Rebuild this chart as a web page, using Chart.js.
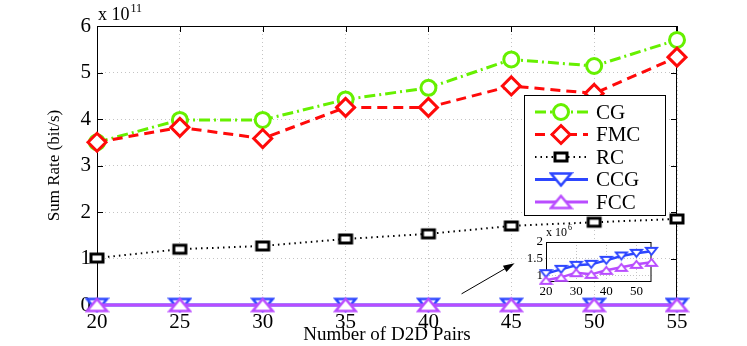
<!DOCTYPE html>
<html>
<head>
<meta charset="utf-8">
<script src="https://cdn.jsdelivr.net/npm/chart.js@4"></script>
<style>
  body { margin: 0; background: #fff; }
  #wrap { position: relative; width: 747px; height: 346px; }
  #main { position: absolute; left: 0; top: 0; }
  #inset { position: absolute; left: 510px; top: 222px; }
</style>
</head>
<body>
<div id="wrap">
  <canvas id="main" width="747" height="346"></canvas>
  <canvas id="inset" width="150" height="78"></canvas>
</div>
<script>
// number of D2D pairs
const pairs = [20, 25, 30, 35, 40, 45, 50, 55];
// sum rate, units of 1e11 bit/s
const cg  = [3.50, 3.98, 3.98, 4.42, 4.67, 5.28, 5.14, 5.70];
const fmc = [3.50, 3.82, 3.58, 4.25, 4.25, 4.71, 4.55, 5.33];
const rc  = [1.01, 1.20, 1.27, 1.42, 1.53, 1.70, 1.78, 1.85];
// sum rate, units of 1e6 bit/s (inset)
const ccg = [1.05, 1.18, 1.30, 1.33, 1.45, 1.58, 1.66, 1.72];
const fcc = [0.85, 0.94, 1.08, 1.03, 1.15, 1.24, 1.33, 1.39];
const yTicks = [0, 1, 2, 3, 4, 5, 6];
const insetXTicks = [20, 30, 40, 50];
const insetYTicks = [1, 1.5, 2];

const GREEN = "#66f000", RED = "#ff0a0a", BLACK = "#000000", BLUE = "#2d46ff", PURPLE = "#b94cff";
const SERIF = "'Liberation Serif', 'DejaVu Serif', serif";

function pts(ys) { return pairs.map((x, i) => ({ x: x, y: ys[i] })); }
function to11(ys) { return ys.map(v => v * 1e6 / 1e11); }

// matlab markers come out stretched in the picture, so build them by hand
function marker(kind, w, h, color, lw) {
    const c = document.createElement("canvas");
    c.width = w + lw * 2;
    c.height = h + lw * 2;
    const g = c.getContext("2d");
    g.strokeStyle = color;
    g.fillStyle = "#fff";
    g.lineWidth = lw;
    g.lineJoin = "miter";
    const l = lw, t = lw, r = lw + w, b = lw + h;
    g.beginPath();
    if (kind === "square") {
        g.rect(l, t, w, h);
    } else if (kind === "up") {
        g.moveTo((l + r) / 2, t); g.lineTo(r, b); g.lineTo(l, b); g.closePath();
    } else if (kind === "down") {
        g.moveTo(l, t); g.lineTo(r, t); g.lineTo((l + r) / 2, b); g.closePath();
    }
    g.fill();
    g.stroke();
    return c;
}

const series = [
    { label: "CG",  data: cg,  color: GREEN,  dash: [11, 4, 2, 4], width: 3, style: "circle",  radius: 7.5 },
    { label: "FMC", data: fmc, color: RED,    dash: [10, 6],       width: 3, style: "rectRot", radius: 9 },
    { label: "RC",  data: rc,  color: BLACK,  dash: [1.5, 4],      width: 2, style: marker("square", 12, 8, BLACK, 3), radius: 8 },
    { label: "CCG", data: to11(ccg), color: BLUE,   dash: [],      width: 3, style: marker("down", 20, 12, BLUE, 2.5), radius: 10 },
    { label: "FCC", data: to11(fcc), color: PURPLE, dash: [],      width: 3, style: marker("up", 20, 12, PURPLE, 2.5), radius: 10 }
];

function makeDataset(s, i) {
    return {
        label: s.label,
        data: pts(s.data),
        order: -i,
        borderColor: s.color,
        borderWidth: s.width,
        borderDash: s.dash,
        pointStyle: s.style,
        pointRadius: s.radius,
        pointBorderWidth: 3,
        pointBorderColor: s.color,
        pointBackgroundColor: "#ffffff",
        pointHoverRadius: s.radius,
        tension: 0,
        fill: false,
        clip: false
    };
}

// frame, inward ticks, legend, exponent label and arrow
const decorations = {
    id: "decorations",
    beforeDatasetsDraw(chart) {
        const { ctx, chartArea: a, scales } = chart;
        ctx.save();
        ctx.strokeStyle = "#000";
        ctx.lineWidth = 1;
        ctx.strokeRect(a.left + 0.5, a.top + 0.5, a.right - a.left - 1, a.bottom - a.top - 1);
        ctx.beginPath();
        scales.x.ticks.forEach(t => {
            const px = Math.round(scales.x.getPixelForValue(t.value)) + 0.5;
            ctx.moveTo(px, a.bottom); ctx.lineTo(px, a.bottom - 6);
            ctx.moveTo(px, a.top); ctx.lineTo(px, a.top + 6);
        });
        scales.y.ticks.forEach(t => {
            const py = Math.round(scales.y.getPixelForValue(t.value)) + 0.5;
            ctx.moveTo(a.left, py); ctx.lineTo(a.left + 6, py);
            ctx.moveTo(a.right, py); ctx.lineTo(a.right - 6, py);
        });
        ctx.stroke();
        ctx.restore();
    },
    afterDraw(chart) {
        const { ctx, chartArea: a, scales } = chart;
        ctx.save();
        // exponent
        ctx.fillStyle = "#000";
        ctx.textBaseline = "alphabetic";
        ctx.font = "18px " + SERIF;
        ctx.fillText("x 10", a.left + 1, 20);
        const w = ctx.measureText("x 10").width;
        ctx.font = "12px " + SERIF;
        ctx.fillText("11", a.left + 1 + w + 1, 12);

        // arrow towards the inset
        const x0 = scales.x.getPixelForValue(42.0), y0 = scales.y.getPixelForValue(0.24);
        const x1 = scales.x.getPixelForValue(45.2), y1 = scales.y.getPixelForValue(0.90);
        const ang = Math.atan2(y1 - y0, x1 - x0);
        ctx.strokeStyle = "#000";
        ctx.lineWidth = 1;
        ctx.beginPath();
        ctx.moveTo(x0, y0);
        ctx.lineTo(x1 - 6 * Math.cos(ang), y1 - 6 * Math.sin(ang));
        ctx.stroke();
        ctx.beginPath();
        ctx.moveTo(x1, y1);
        ctx.lineTo(x1 - 12 * Math.cos(ang - 0.3), y1 - 12 * Math.sin(ang - 0.3));
        ctx.lineTo(x1 - 12 * Math.cos(ang + 0.3), y1 - 12 * Math.sin(ang + 0.3));
        ctx.closePath();
        ctx.fillStyle = "#000";
        ctx.fill();

        // legend box
        const bx = 524, by = 95, bw = 141, bh = 120;
        ctx.fillStyle = "#fff";
        ctx.fillRect(bx, by, bw, bh);
        ctx.strokeStyle = "#000";
        ctx.strokeRect(bx + 0.5, by + 0.5, bw, bh);
        const rowH = 22.5;
        series.forEach((s, i) => {
            const cy = by + 17 + i * rowH;
            ctx.save();
            ctx.strokeStyle = s.color;
            ctx.lineWidth = s.width;
            ctx.setLineDash(s.dash);
            ctx.beginPath();
            ctx.moveTo(535, cy);
            ctx.lineTo(588, cy);
            ctx.stroke();
            ctx.setLineDash([]);
            ctx.lineWidth = 3;
            ctx.strokeStyle = s.color;
            ctx.fillStyle = "#fff";
            Chart.helpers.drawPoint(ctx, {
                pointStyle: s.style, rotation: 0,
                radius: s.radius, borderWidth: 3
            }, 561, cy);
            ctx.restore();
            ctx.fillStyle = "#000";
            ctx.font = "21px " + SERIF;
            ctx.textBaseline = "middle";
            ctx.fillText(s.label, 596, cy + 1);
        });
        ctx.restore();
    }
};

new Chart(document.getElementById("main").getContext("2d"), {
    type: "line",
    data: { datasets: series.map(makeDataset) },
    options: {
        responsive: false,
        animation: false,
        layout: { padding: { top: 26, right: 70, left: 0, bottom: 0 } },
        plugins: { legend: { display: false }, tooltip: { enabled: false } },
        scales: {
            x: {
                type: "linear",
                min: 20, max: 55,
                afterFit: s => { s.height = 41; },
                afterBuildTicks: s => { s.ticks = pairs.map(v => ({ value: v })); },
                grid: { color: "#c4c4c4", drawTicks: false },
                border: { display: false, dash: [1, 3] },
                ticks: { color: "#000", padding: 5, font: { family: SERIF, size: 21 } },
                title: { display: true, text: "Number of D2D Pairs", color: "#000", padding: 0,
                         font: { family: SERIF, size: 19 } }
            },
            y: {
                min: 0, max: 6,
                afterFit: s => { s.width = 97; },
                afterBuildTicks: s => { s.ticks = yTicks.map(v => ({ value: v })); },
                grid: { color: "#c4c4c4", drawTicks: false },
                border: { display: false, dash: [1, 3] },
                ticks: { color: "#000", padding: 6, font: { family: SERIF, size: 21 } },
                title: { display: true, text: "Sum Rate (bit/s)", color: "#000", padding: { top: 44 },
                         font: { family: SERIF, size: 17 } }
            }
        }
    },
    plugins: [decorations]
});

// inset: CCG and FCC at their own scale
const insetDecor = {
    id: "insetDecor",
    beforeDraw(chart) {
        const { ctx, chartArea: a } = chart;
        ctx.save();
        ctx.fillStyle = "#fff";
        ctx.fillRect(a.left, a.top, a.right - a.left, a.bottom - a.top);
        ctx.restore();
    },
    beforeDatasetsDraw(chart) {
        const { ctx, chartArea: a } = chart;
        ctx.save();
        ctx.strokeStyle = "#000";
        ctx.lineWidth = 1;
        ctx.strokeRect(a.left + 0.5, a.top + 0.5, a.right - a.left - 1, a.bottom - a.top - 1);
        ctx.restore();
    },
    afterDraw(chart) {
        const { ctx, chartArea: a } = chart;
        ctx.save();
        ctx.fillStyle = "#000";
        ctx.font = "12px " + SERIF;
        ctx.fillText("x 10", a.left, 14);
        const w = ctx.measureText("x 10").width;
        ctx.font = "8px " + SERIF;
        ctx.fillText("6", a.left + w + 1, 8);
        ctx.restore();
    }
};

function insetDataset(label, ys, color, kind, order) {
    return {
        label: label,
        data: pts(ys),
        order: order,
        borderColor: color,
        borderWidth: 2.5,
        pointStyle: marker(kind, 11, 7, color, 2),
        pointRadius: 6,
        tension: 0,
        clip: false
    };
}

new Chart(document.getElementById("inset").getContext("2d"), {
    type: "line",
    data: {
        datasets: [
            insetDataset("CCG", ccg, BLUE, "down", 0),
            insetDataset("FCC", fcc, PURPLE, "up", -1)
        ]
    },
    options: {
        responsive: false,
        animation: false,
        layout: { padding: { top: 20, right: 8, left: 0, bottom: 0 } },
        plugins: { legend: { display: false }, tooltip: { enabled: false } },
        scales: {
            x: {
                type: "linear",
                min: 20, max: 55,
                afterFit: s => { s.height = 18; },
                afterBuildTicks: s => { s.ticks = insetXTicks.map(v => ({ value: v })); },
                grid: { color: "#c4c4c4", drawTicks: false },
                border: { display: false, dash: [1, 2] },
                ticks: { color: "#000", padding: 2, font: { family: SERIF, size: 13 } }
            },
            y: {
                min: 0.8, max: 2,
                afterFit: s => { s.width = 36; },
                afterBuildTicks: s => { s.ticks = insetYTicks.map(v => ({ value: v })); },
                grid: { color: "#c4c4c4", drawTicks: false },
                border: { display: false, dash: [1, 2] },
                ticks: { color: "#000", padding: 3, font: { family: SERIF, size: 13 },
                         callback: v => String(v) }
            }
        }
    },
    plugins: [insetDecor]
});
</script>
</body>
</html>
